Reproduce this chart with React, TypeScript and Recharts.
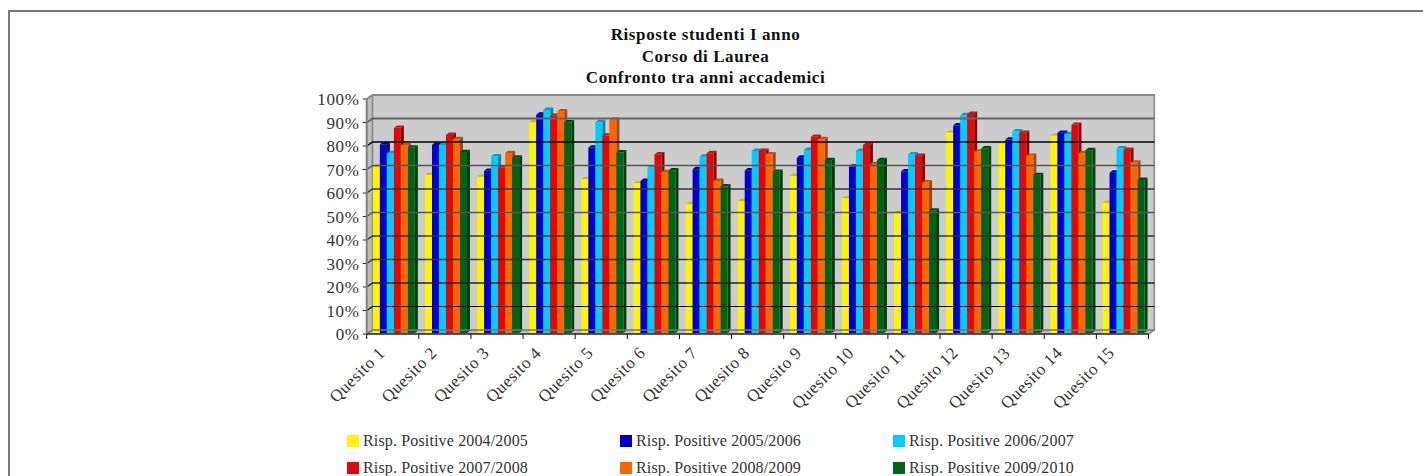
import React from "react";
import { BarChart, Bar, XAxis, YAxis, Legend, ReferenceArea, ReferenceLine } from "recharts";

const categories = ["Quesito 1","Quesito 2","Quesito 3","Quesito 4","Quesito 5","Quesito 6","Quesito 7","Quesito 8","Quesito 9","Quesito 10","Quesito 11","Quesito 12","Quesito 13","Quesito 14","Quesito 15"];
const s0405 = [70.6,67.2,66.5,89.6,65.4,63.7,54.8,56.1,66.8,57.3,51.1,85.2,80.6,83.9,55.3];
const s0506 = [80.3,80,69,92.9,78.9,64.7,69.7,69.2,74.6,70.8,68.8,88.3,82.3,85.2,68.2];
const s0607 = [76.5,80,75.2,94.9,89.7,70.4,75,77.5,77.9,77.5,76,92.7,85.8,84.6,78.6];
const s0708 = [87.3,84.3,70.4,92.4,84,76,76.5,77.5,83.5,80,75.4,93.2,85.2,88.6,77.9];
const s0809 = [79.9,82.5,76.5,94.3,90.7,68.5,64.7,76,82.5,71.8,64.1,77.2,75.4,76.5,72.5];
const s0910 = [78.9,77,74.6,89.6,76.8,69.2,62.4,68.6,73.6,73.6,52.1,78.6,67.2,77.8,65.1];
const yTicks = [0,10,20,30,40,50,60,70,80,90,100];
const titleLines = ["Risposte studenti I anno","Corso di Laurea","Confronto tra anni accademici"];

const series = [
  { key: "a", name: "Risp. Positive 2004/2005", values: s0405, fill: "#FFF500", top: "#C8C000", side: "#A8A000" },
  { key: "b", name: "Risp. Positive 2005/2006", values: s0506, fill: "#0000CC", top: "#000099", side: "#000077" },
  { key: "c", name: "Risp. Positive 2006/2007", values: s0607, fill: "#00CCFF", top: "#00A0C8", side: "#0088AA" },
  { key: "d", name: "Risp. Positive 2007/2008", values: s0708, fill: "#E00808", top: "#B02020", side: "#8A0505" },
  { key: "e", name: "Risp. Positive 2008/2009", values: s0809, fill: "#FF6600", top: "#C85010", side: "#A04810" },
  { key: "f", name: "Risp. Positive 2009/2010", values: s0910, fill: "#006414", top: "#004A10", side: "#00400C" },
];
const data = categories.map((c, i) => {
  const row: Record<string, string | number> = { name: c };
  series.forEach((s) => (row[s.key] = s.values[i]));
  return row;
});

const W = 1423, H = 476;
const PLOT_LEFT = 366.7, PLOT_RIGHT = 1148.5, PLOT_TOP = 99, PLOT_BOTTOM = 334;
const DX = 5.8, DY = -4;
const HALF_BAND = (PLOT_RIGHT - PLOT_LEFT) / categories.length / 2;
const FONT = "'Liberation Serif', serif";

const gridStroke: Record<number, [string, number]> = {
  0: ["#777", 1.6], 10: ["#000", 1.2], 20: ["#222", 1.3], 30: ["#333", 1.3], 40: ["#333", 1.3], 50: ["#555", 1.5],
  60: ["#333", 1.3], 70: ["#555", 1.5], 80: ["#000", 1.3], 90: ["#666", 2], 100: ["#888", 1.8],
};

const Wall = ({ x, y, width, height }: any) => (
  <g>
    <polygon points={`${x},${y} ${x + DX},${y + DY} ${x + DX},${y + height + DY} ${x},${y + height}`} fill="#BDBDBD" />
    <rect x={x + DX} y={y + DY} width={width} height={height} fill="#CDCDCD" />
    <polygon points={`${x},${y + height} ${x + DX},${y + height + DY} ${x + width + DX},${y + height + DY} ${x + width},${y + height}`} fill="#BDBDBD" />
    <polygon points={`${x + width},${y + height} ${x + width + DX},${y + height + DY} ${x + width + DX},${y + DY} ${x + width},${y + DY}`} fill="#CDCDCD" />
    <path d={`M${x + DX},${y + height + DY} V${y + DY} H${x + width + DX} V${y + height + DY} L${x + width},${y + height}`} fill="none" stroke="#888" strokeWidth={1.6} />
  </g>
);

const GridLine = (v: number) => (props: any) => {
  const [c, w] = gridStroke[v];
  const { x1, y1, x2 } = props;
  return (
    <path d={`M${x1},${y1} L${x1 + DX},${y1 + DY} H${x2 + DX}`} fill="none" stroke={c} strokeWidth={w} />
  );
};

const Bar3D = (top: string, side: string) => (props: any) => {
  const { x, y, width, height, fill } = props;
  if (!height) return null;
  const bx = x + 0.7, by = y - 1, d = 3, u = -2.4;
  return (
    <g>
      <polygon points={`${bx},${by} ${bx + d},${by + u} ${bx + width + d},${by + u} ${bx + width},${by}`} fill={top} />
      <polygon points={`${bx + width},${by} ${bx + width + d},${by + u} ${bx + width + d},${by + height + u} ${bx + width},${by + height}`} fill={side} />
      <rect x={bx} y={by} width={width} height={height} fill={fill} />
    </g>
  );
};

const XTick = (props: any) => {
  const { x, index, payload } = props;
  const isLast = index === categories.length - 1;
  return (
    <g>
      <line x1={x - HALF_BAND} x2={x - HALF_BAND} y1={PLOT_BOTTOM} y2={PLOT_BOTTOM + 5} stroke="#111" strokeWidth={1} />
      {isLast && <line x1={x + HALF_BAND} x2={x + HALF_BAND} y1={PLOT_BOTTOM} y2={PLOT_BOTTOM + 5} stroke="#111" strokeWidth={1} />}
      <text
        x={x - 7}
        y={PLOT_BOTTOM + 20}
        textAnchor="end"
        fontFamily={FONT}
        fontSize={17}
        letterSpacing={0.5}
        fill="#333"
        transform={`rotate(-45 ${x - 7} ${PLOT_BOTTOM + 20})`}
      >
        {payload.value}
      </text>
    </g>
  );
};

const LegendBox = ({ payload }: any) => (
  <div style={{ display: "grid", gridTemplateColumns: "273px 273px 273px", rowGap: 0, fontFamily: FONT, fontSize: 16, letterSpacing: 0.15, color: "#333", textAlign: "left" }}>
    {(payload || []).map((p: any) => (
      <div key={p.value} style={{ display: "flex", alignItems: "center", height: 27, whiteSpace: "nowrap" }}>
        <span style={{ display: "inline-block", width: 12, height: 12, background: p.color, marginRight: 4 }} />
        <span>{p.value}</span>
      </div>
    ))}
  </div>
);

export default function App() {
  return (
    <div style={{ position: "absolute", left: 0, top: 0, width: W, height: H, overflow: "hidden", background: "#fff" }}>
      <div style={{ position: "absolute", left: 8, top: 10, right: 0, height: 2, background: "#777" }} />
      <div style={{ position: "absolute", left: 8, top: 10, bottom: 0, width: 2, background: "#777" }} />
      <div style={{ position: "absolute", left: 0, width: 1411, top: 24, textAlign: "center", fontFamily: FONT, fontWeight: "bold", fontSize: 17, letterSpacing: 0.6, lineHeight: "21.5px", color: "#111" }}>
        {titleLines.map((t) => (
          <div key={t}>{t}</div>
        ))}
      </div>
      <div style={{ position: "absolute", left: 0, top: 0 }}>
        <BarChart
          width={W}
          height={H}
          data={data}
          barGap={0}
          barCategoryGap="10.5%"
          margin={{ top: PLOT_TOP, left: PLOT_LEFT - 60, right: W - PLOT_RIGHT, bottom: 0 }}
        >
          <XAxis dataKey="name" height={H - PLOT_BOTTOM} interval={0} tickLine={false} axisLine={false} tick={<XTick />} />
          <YAxis
            width={60}
            domain={[0, 100]}
            ticks={yTicks}
            interval={0}
            tickFormatter={(v: number) => `${v}%`}
            axisLine={false}
            tickLine={{ stroke: "#222" }}
            tickSize={4}
            tickMargin={3}
            tick={{ fontFamily: FONT, fontSize: 17, fill: "#333", letterSpacing: 0.7 }}
          />
          <ReferenceArea y1={0} y2={100} shape={<Wall />} ifOverflow="visible" />
          {yTicks.map((v) => (
            <ReferenceLine key={v} y={v} shape={GridLine(v)} ifOverflow="visible" />
          ))}
          {series.map((s) => (
            <Bar key={s.key} dataKey={s.key} name={s.name} fill={s.fill} isAnimationActive={false} shape={Bar3D(s.top, s.side)} />
          ))}
          <Legend
            layout="horizontal"
            verticalAlign="middle"
            content={<LegendBox />}
            wrapperStyle={{ position: "absolute", left: 347, top: 427, width: 830, bottom: "auto" }}
          />
        </BarChart>
      </div>
      <svg width={W} height={H} style={{ position: "absolute", left: 0, top: 0, pointerEvents: "none" }}>
        <line x1={PLOT_LEFT} x2={PLOT_LEFT} y1={PLOT_TOP} y2={PLOT_BOTTOM} stroke="#808080" strokeWidth={2} />
        <line x1={PLOT_LEFT} x2={PLOT_RIGHT} y1={PLOT_BOTTOM} y2={PLOT_BOTTOM} stroke="#222" strokeWidth={1.5} />
      </svg>
    </div>
  );
}
